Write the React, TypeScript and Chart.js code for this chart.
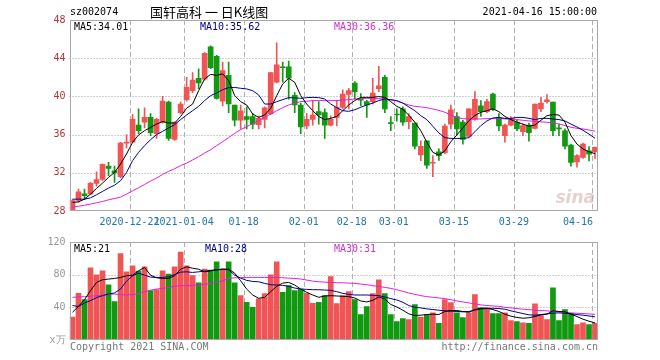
import React, { useEffect, useRef } from "react";
import { Chart, registerables } from "chart.js";
Chart.register(...registerables);

const dates = [
  "2020-12-07","2020-12-08","2020-12-09","2020-12-10","2020-12-11","2020-12-14","2020-12-15","2020-12-16","2020-12-17","2020-12-18",
  "2020-12-21","2020-12-22","2020-12-23","2020-12-24","2020-12-25","2020-12-28","2020-12-29","2020-12-30","2020-12-31","2021-01-04",
  "2021-01-05","2021-01-06","2021-01-07","2021-01-08","2021-01-11","2021-01-12","2021-01-13","2021-01-14","2021-01-15","2021-01-18",
  "2021-01-19","2021-01-20","2021-01-21","2021-01-22","2021-01-25","2021-01-26","2021-01-27","2021-01-28","2021-01-29","2021-02-01",
  "2021-02-02","2021-02-03","2021-02-04","2021-02-05","2021-02-08","2021-02-09","2021-02-10","2021-02-18","2021-02-19","2021-02-22",
  "2021-02-23","2021-02-24","2021-02-25","2021-02-26","2021-03-01","2021-03-02","2021-03-03","2021-03-04","2021-03-05","2021-03-08",
  "2021-03-09","2021-03-10","2021-03-11","2021-03-12","2021-03-15","2021-03-16","2021-03-17","2021-03-18","2021-03-19","2021-03-22",
  "2021-03-23","2021-03-24","2021-03-25","2021-03-26","2021-03-29","2021-03-30","2021-03-31","2021-04-01","2021-04-02","2021-04-06",
  "2021-04-07","2021-04-08","2021-04-09","2021-04-12","2021-04-13","2021-04-14","2021-04-15","2021-04-16",
];

const openP = [
  28.1,29.1,29.8,29.8,30.9,31.3,32.7,32.2,31.6,35.1,
  35.2,37.0,37.3,37.8,36.1,37.3,39.4,35.5,38.3,39.66,
  40.6,41.9,41.8,45.2,44.2,39.5,42.2,39.1,37.5,37.9,
  37.9,37.05,37.6,38.2,41.5,43.1,43.1,40.1,39.1,36.9,
  37.6,38.4,38.3,37.0,37.8,38.85,40.2,41.4,39.7,39.45,
  39.45,40.8,42.0,37.25,38.1,38.7,37.35,37.2,33.86,35.36,
  33.0,34.2,34.1,37.1,37.9,37.3,35.8,37.6,39.0,38.4,
  40.25,37.8,35.9,37.0,37.3,36.3,37.0,36.65,38.7,39.45,
  39.4,36.7,36.4,34.9,33.15,33.6,34.3,34.2,
];
const closeP = [
  29.1,30.0,29.6,30.9,31.3,32.9,32.45,32.0,35.1,35.2,
  37.6,36.4,37.8,36.2,37.6,39.5,35.6,37.3,39.2,40.96,
  41.7,41.4,44.5,43.0,39.8,42.7,39.2,37.5,38.5,37.6,
  37.1,37.7,38.8,42.5,43.3,43.0,41.9,39.1,36.8,37.6,
  38.05,38.05,37.0,37.6,38.85,40.25,40.6,40.5,39.6,39.1,
  40.35,41.1,38.7,37.15,38.05,37.3,37.9,34.8,34.77,32.8,
  33.1,33.8,36.9,38.6,36.6,35.5,38.7,39.7,38.4,39.45,
  38.7,36.9,37.0,37.7,36.6,36.95,36.2,39.2,39.3,39.65,
  36.4,36.6,34.8,33.1,33.8,35.0,33.96,34.67,
];
const highP = [
  29.2,30.3,30.3,31.0,32.1,32.95,33.1,32.7,35.2,36.0,
  38.1,38.7,38.8,38.2,37.7,40.0,39.5,37.35,39.4,42.0,
  42.5,42.9,44.6,45.3,44.3,43.6,43.6,39.1,39.1,38.9,
  38.2,37.97,38.9,42.5,45.6,43.6,43.7,40.4,39.3,38.2,
  39.6,39.45,38.7,37.97,39.55,40.7,40.85,41.55,40.3,39.6,
  41.9,43.15,42.2,37.9,38.7,38.9,38.2,37.2,35.35,35.36,
  33.8,34.5,37.1,39.1,38.3,37.5,38.7,40.5,39.55,39.7,
  40.35,38.2,37.1,37.9,37.5,37.1,37.2,39.2,39.9,40.2,
  39.4,37.1,36.6,35.0,33.9,35.1,34.75,34.7,
];
const lowP = [
  28.0,28.9,29.2,29.7,30.6,31.2,31.7,31.0,31.5,34.6,
  35.15,36.1,36.7,35.9,35.6,37.2,35.4,35.4,38.2,39.5,
  40.4,40.8,41.7,42.9,39.7,39.0,38.3,36.9,36.6,36.6,
  36.6,36.6,36.7,38.1,41.4,41.5,39.7,38.3,36.1,36.6,
  37.0,37.1,35.6,36.9,36.9,38.7,38.7,39.7,39.0,37.8,
  39.2,40.5,38.3,36.4,37.4,36.95,36.6,34.5,33.26,32.46,
  31.6,33.3,34.0,36.6,36.0,35.0,35.7,37.5,37.9,38.3,
  38.5,36.4,35.2,36.9,36.4,35.9,35.3,36.6,38.4,39.3,
  35.9,35.9,34.5,32.7,32.6,33.5,33.25,33.5,
];
const ma5 = [
  28.9,28.96,29.24,29.77,30.36,30.92,31.52,32.04,32.92,33.97,
  35.19,35.96,36.41,36.76,37.1,37.36,37.22,37.2,37.9,38.76,
  39.2,40.6,41.83,42.3,42.2,42.36,41.66,40.1,39.45,39.1,
  38.16,37.8,38.05,38.75,40.08,41.3,41.9,41.48,40.08,39.2,
  38.5,37.9,37.57,37.7,37.9,38.5,39.1,39.56,39.9,39.9,
  39.9,39.98,39.9,39.45,38.96,38.65,38.03,37.3,36.4,35.2,
  34.14,33.86,34.3,35.26,35.96,36.7,37.46,38.0,38.34,38.5,
  38.7,38.4,37.9,37.57,37.3,37.1,36.87,37.0,37.5,37.98,
  38.1,38.05,37.3,35.9,35.0,34.5,34.2,34.01,
];
const ma10 = [
  29.24,29.24,29.24,29.38,29.7,30.05,30.4,30.7,31.17,32.04,
  33.27,34.14,34.84,35.47,36.0,36.34,36.7,37.04,37.57,38.05,
  38.5,38.96,39.56,40.08,40.36,40.7,40.92,40.94,40.85,40.78,
  40.6,40.15,39.2,39.2,39.45,39.66,39.87,39.84,39.8,39.87,
  39.9,39.87,39.73,39.2,38.82,38.5,38.44,38.6,38.86,39.1,
  39.3,39.56,39.73,39.66,39.56,39.3,38.9,38.5,37.98,37.57,
  36.87,36.17,35.68,35.6,35.6,35.6,35.68,36.3,36.94,37.43,
  37.74,37.78,37.7,37.7,37.8,37.8,37.7,37.57,37.7,37.7,
  37.64,37.57,37.43,37.1,36.8,36.45,36.05,35.62,
];
const ma30 = [
  28.4,28.5,28.6,28.72,28.86,29.0,29.17,29.31,29.45,29.77,
  30.12,30.43,30.78,31.13,31.45,31.83,32.15,32.43,32.74,33.02,
  33.34,33.69,34.07,34.42,34.84,35.26,35.68,36.13,36.52,36.83,
  37.15,37.46,37.8,38.16,38.5,38.82,39.1,39.3,39.45,39.5,
  39.56,39.56,39.56,39.56,39.56,39.6,39.66,39.73,39.77,39.8,
  39.8,39.77,39.73,39.63,39.52,39.3,39.1,38.96,38.9,38.82,
  38.68,38.54,38.34,38.05,37.8,37.67,37.64,37.64,37.64,37.67,
  37.7,37.7,37.64,37.6,37.57,37.5,37.43,37.4,37.33,37.29,
  37.22,37.11,36.94,36.77,36.66,36.59,36.48,36.36,
];
const volume = [
  28.0,57.1,49.4,88.4,79.8,84.7,67.7,47.0,105.8,83.5,
  90.8,84.3,89.6,60.4,61.6,84.7,80.7,89.6,107.8,90.8,
  79.0,70.1,86.7,85.5,95.6,86.7,95.6,70.1,54.3,46.2,
  40.1,50.3,56.7,79.8,95.6,58.4,66.5,60.4,62.4,57.1,
  45.0,46.2,54.3,77.8,44.6,54.3,59.2,49.4,31.2,40.9,
  56.7,73.8,56.7,31.2,22.7,26.3,25.1,43.4,28.0,31.2,
  33.2,20.3,49.4,45.8,33.2,27.6,33.2,55.5,39.3,39.3,
  32.4,32.4,33.2,23.9,22.7,21.1,20.3,44.2,30.0,25.1,
  64.0,23.9,37.3,32.4,19.0,21.1,19.0,20.3,
];
const vma5 = [
  34.0,41.3,49.4,60.4,70.5,73.8,74.6,75.4,76.6,78.6,
  79.4,84.7,88.8,79.4,76.2,75.4,75.4,78.6,86.7,89.6,
  87.9,86.7,83.5,84.7,85.9,86.7,86.7,81.9,72.5,62.4,
  55.1,51.1,52.3,59.2,65.7,69.7,70.5,67.3,62.4,58.4,
  55.1,52.3,53.9,54.3,53.9,53.5,53.1,51.5,47.8,46.6,
  48.6,52.7,50.3,43.4,40.5,36.5,32.0,30.0,30.4,31.2,
  31.6,31.2,34.9,36.1,36.1,34.9,34.0,37.3,38.9,38.9,
  37.3,34.9,31.6,29.2,27.6,26.7,27.2,28.8,30.8,31.6,
  35.7,34.9,34.5,31.6,28.8,25.5,23.0,21.0,
];
const vma10 = [
  42.2,40.9,45.4,48.2,51.9,54.3,56.3,57.6,62.4,72.1,
  78.6,81.9,79.4,77.0,76.6,76.6,77.4,80.2,83.1,83.5,
  82.7,83.5,84.3,85.1,85.9,86.7,85.9,79.4,75.8,73.0,
  71.7,71.3,69.3,67.7,67.3,66.9,65.7,63.6,62.4,62.0,
  61.6,61.6,61.2,60.8,59.2,57.1,55.9,55.1,55.1,55.1,
  54.7,54.3,52.7,50.7,49.0,46.2,42.2,40.1,39.3,38.1,
  37.3,36.5,35.7,35.3,34.9,34.5,34.9,36.5,38.1,38.5,
  38.9,38.5,37.7,35.7,34.0,32.4,30.8,30.4,31.2,32.0,
  32.8,33.2,32.8,32.0,31.2,30.4,29.4,28.4,
];
const vma30 = [
  52.3,52.7,53.1,53.5,54.3,55.1,55.9,56.3,55.5,55.1,
  55.5,56.8,59.2,61.0,62.4,63.2,64.4,65.7,66.5,66.5,
  66.9,67.3,68.1,69.3,70.5,72.5,75.4,76.2,76.2,76.6,
  76.6,76.6,76.6,76.6,76.6,76.2,75.8,75.4,74.6,73.4,
  72.1,71.3,70.9,70.5,70.1,70.1,69.7,69.3,68.5,67.7,
  66.5,65.7,64.4,63.2,61.6,59.6,57.6,55.9,54.3,53.1,
  52.3,51.5,50.7,49.4,47.8,46.6,45.4,44.2,43.0,42.2,
  41.7,41.3,40.1,39.3,38.5,37.7,37.3,36.5,36.1,35.7,
  34.9,34.5,33.6,33.2,32.8,32.4,31.9,31.4,
];

const tickDates = ["2020-12-21","2021-01-04","2021-01-18","2021-02-01","2021-02-18","2021-03-01","2021-03-15","2021-03-29","2021-04-16"];
const tickTexts = ["2020-12-21","2021-01-04","01-18","02-01","02-18","03-01","03-15","03-29","04-16"];
const priceTicks = [28, 32, 36, 40, 44, 48];
const volumeTicks = [0, 40, 80, 120];
const stockCode = "sz002074";
const chartTitle = "国轩高科 一 日K线图";
const stampText = "2021-04-16 15:00:00";
const copyrightText = "Copyright 2021 SINA.COM";
const siteText = "http://finance.sina.com.cn";

const UP = "#f05454";
const DOWN = "#119911";
const MONO = "'DejaVu Sans Mono', monospace";
const FRAME = "#a8a8a8";

function drawGrid(chart: any, yTicks: number[]) {
  const { ctx, chartArea: a, scales } = chart;
  const x = scales.x, y = scales.y;
  const half = (x.getPixelForValue(1) - x.getPixelForValue(0)) / 2;
  ctx.save();
  ctx.lineWidth = 1;
  ctx.strokeStyle = "#a0a0a0";
  ctx.setLineDash([1, 2]);
  yTicks.forEach((v) => {
    if (v <= y.min || v >= y.max) return;
    const py = Math.round(y.getPixelForValue(v)) + 0.5;
    ctx.beginPath(); ctx.moveTo(a.left, py); ctx.lineTo(a.right, py); ctx.stroke();
  });
  ctx.strokeStyle = "#b0b0b0";
  ctx.setLineDash([5, 3]);
  tickDates.forEach((d) => {
    const i = dates.indexOf(d);
    const px = Math.round(x.getPixelForValue(i) - half) + 0.5;
    ctx.beginPath(); ctx.moveTo(px, a.top); ctx.lineTo(px, a.bottom); ctx.stroke();
  });
  ctx.restore();
}

function drawFrame(chart: any) {
  const { ctx, chartArea: a } = chart;
  ctx.save();
  ctx.strokeStyle = FRAME;
  ctx.lineWidth = 1;
  ctx.setLineDash([]);
  const l = Math.round(a.left) + 0.5, t = Math.round(a.top) + 0.5;
  const r = Math.round(a.right) - 0.5, b = Math.round(a.bottom) - 0.5;
  ctx.strokeRect(l, t, r - l, b - t);
  ctx.restore();
}

function drawLegend(chart: any, texts: string[], xs: number[], colors: string[], y: number) {
  const { ctx } = chart;
  ctx.save();
  ctx.font = `10px ${MONO}`;
  ctx.textBaseline = "middle";
  ctx.textAlign = "left";
  texts.forEach((t, k) => { ctx.fillStyle = colors[k]; ctx.fillText(t, xs[k], y); });
  ctx.restore();
}

export default function App() {
  const mainRef = useRef<HTMLCanvasElement>(null);
  const volRef = useRef<HTMLCanvasElement>(null);

  useEffect(() => {
    const colors = closeP.map((c, i) => (c >= openP[i] ? UP : DOWN));
    const lineDs = (data: number[], color: string) => ({
      type: "line" as const, data, borderColor: color, borderWidth: 1, pointRadius: 0,
      fill: false, tension: 0, order: 0,
    });

    const mainPlugin = {
      id: "mainDeco",
      beforeDatasetsDraw(chart: any) { drawGrid(chart, priceTicks); },
      afterDatasetsDraw(chart: any) {
        const { ctx, chartArea: a, scales } = chart;
        drawFrame(chart);
        // watermark
        ctx.save();
        ctx.font = "italic bold 17px 'DejaVu Sans', sans-serif";
        ctx.fillStyle = "rgba(210,170,170,0.55)";
        ctx.textAlign = "right"; ctx.textBaseline = "alphabetic";
        ctx.fillText("sina", a.right - 3, a.bottom - 8);
        ctx.restore();
        // header
        ctx.save();
        ctx.fillStyle = "#000";
        ctx.textBaseline = "middle";
        ctx.font = `10px ${MONO}`;
        ctx.textAlign = "left";
        ctx.fillText(stockCode, 70, 12);
        ctx.font = "13px 'Noto Sans CJK SC', sans-serif";
        ctx.fillText(chartTitle, 150, 12);
        ctx.font = `10px ${MONO}`;
        ctx.textAlign = "right";
        ctx.fillText(stampText, 597, 12);
        // x labels
        const x = scales.x;
        const half = (x.getPixelForValue(1) - x.getPixelForValue(0)) / 2;
        ctx.fillStyle = "#2277aa";
        ctx.textAlign = "center";
        tickDates.forEach((d, k) => {
          const i = dates.indexOf(d);
          let px = x.getPixelForValue(i) - half;
          const w = ctx.measureText(tickTexts[k]).width;
          if (px + w / 2 > a.right - 5) px = a.right - 5 - w / 2;
          ctx.fillText(tickTexts[k], px, a.bottom + 11);
        });
        ctx.restore();
        drawLegend(chart,
          [`MA5:${ma5[ma5.length - 1].toFixed(2)}`, `MA10:${ma10[ma10.length - 1].toFixed(2)}`, `MA30:${ma30[ma30.length - 1].toFixed(2)}`],
          [74, 200, 334], ["#000000", "#000088", "#cc33cc"], a.top + 7);
      },
    };

    const volPlugin = {
      id: "volDeco",
      beforeDatasetsDraw(chart: any) { drawGrid(chart, volumeTicks); },
      afterDatasetsDraw(chart: any) {
        const { ctx, chartArea: a } = chart;
        drawFrame(chart);
        drawLegend(chart,
          [`MA5:${Math.round(vma5[vma5.length - 1])}`, `MA10:${Math.round(vma10[vma10.length - 1])}`, `MA30:${Math.round(vma30[vma30.length - 1])}`],
          [74, 205, 334], ["#000000", "#000088", "#cc33cc"], a.top + 7);
        ctx.save();
        ctx.font = `10px ${MONO}`;
        ctx.fillStyle = "#777";
        ctx.textBaseline = "middle";
        ctx.textAlign = "left";
        ctx.fillText(copyrightText, 70, a.bottom + 7);
        ctx.textAlign = "right";
        ctx.fillText(siteText, 598, a.bottom + 7);
        ctx.restore();
      },
    };

    const yScale = (min: number, max: number, ticks: number[], color: string, cb?: (v: number) => string) => ({
      min, max,
      afterBuildTicks: (s: any) => { s.ticks = ticks.map((v) => ({ value: v })); },
      afterFit: (s: any) => { s.width = 69.5; },
      ticks: { color, font: { family: MONO, size: 10 }, padding: 4, callback: cb || ((v: any) => String(v)) },
      grid: { display: false, drawTicks: false },
      border: { display: false },
    });

    const main = new Chart(mainRef.current as HTMLCanvasElement, {
      type: "bar",
      data: {
        labels: dates,
        datasets: [
          lineDs(ma5, "#000000"),
          lineDs(ma10, "#000090"),
          lineDs(ma30, "#e020e0"),
          {
            type: "bar", data: dates.map((_, i) => [openP[i], closeP[i]]), backgroundColor: colors,
            barThickness: 5, grouped: false, minBarLength: 1, order: 1,
          } as any,
          {
            type: "bar", data: dates.map((_, i) => [lowP[i], highP[i]]), backgroundColor: colors,
            barThickness: 1, grouped: false, order: 2,
          } as any,
        ],
      },
      options: {
        responsive: false, animation: false, devicePixelRatio: 1,
        layout: { padding: { top: 20, right: 62, bottom: 21, left: 0 } },
        plugins: { legend: { display: false }, tooltip: { enabled: false } },
        scales: {
          x: { type: "category", offset: true, display: false, grid: { display: false } },
          y: yScale(28, 48, priceTicks, "#bb3333") as any,
        },
      },
      plugins: [mainPlugin],
    });

    const vol = new Chart(volRef.current as HTMLCanvasElement, {
      type: "bar",
      data: {
        labels: dates,
        datasets: [
          lineDs(vma5, "#000000"),
          lineDs(vma10, "#000090"),
          lineDs(vma30, "#e020e0"),
          { type: "bar", data: volume, backgroundColor: colors, barThickness: 5, grouped: false, order: 1 } as any,
        ],
      },
      options: {
        responsive: false, animation: false, devicePixelRatio: 1,
        layout: { padding: { top: 8, right: 62, bottom: 20, left: 0 } },
        plugins: { legend: { display: false }, tooltip: { enabled: false } },
        scales: {
          x: { type: "category", offset: true, display: false, grid: { display: false } },
          y: yScale(0, 120, volumeTicks, "#999999", (v: number) => (v === 0 ? "x万" : String(v))) as any,
        },
      },
      plugins: [volPlugin],
    });

    return () => { main.destroy(); vol.destroy(); };
  }, []);

  return (
    <div style={{ position: "fixed", left: 0, top: 0, width: 660, height: 360, background: "#fff" }}>
      <canvas ref={mainRef} width={660} height={232} style={{ position: "absolute", left: 0, top: 0 }} />
      <canvas ref={volRef} width={660} height={128} style={{ position: "absolute", left: 0, top: 232 }} />
    </div>
  );
}
